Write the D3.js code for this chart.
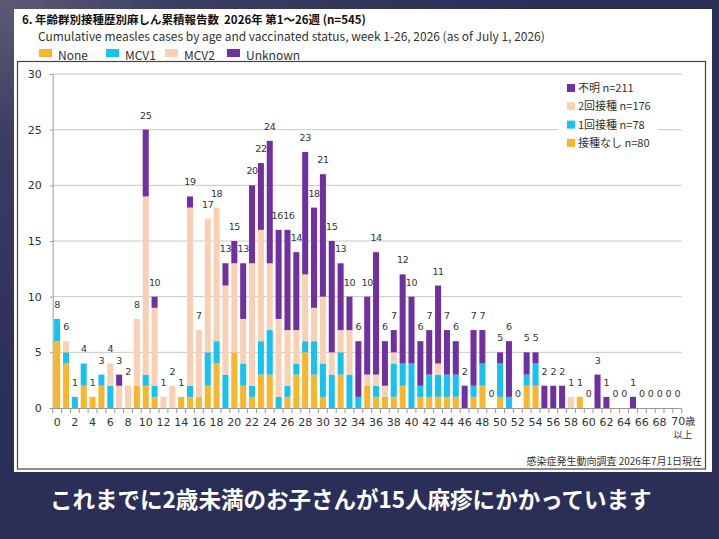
<!DOCTYPE html>
<html>
<head>
<meta charset="utf-8">
<script src="https://cdn.jsdelivr.net/npm/d3@7"></script>
<style>
  html, body { margin: 0; padding: 0; background: #2e3159; }
  svg { display: block; }
</style>
</head>
<body>
<div id="chart"></div>
<script>
// Chart values (ages 0..70+)
var ages = d3.range(0, 71);
var noneVals = [6,4,0,2,1,2,0,0,0,2, 2,1,0,0,1,1,1,2,4,0, 5,2,1,3,3,0,1,3,5,3, 1,0,3,0,0,2,1,1,1,2, 0,1,1,1,1,1,0,1,2,0, 1,0,0,2,2,0,0,0,0,1, 0,0,0,0,0,0,0,0,0,0,0];
var mcv1Vals = [2,1,1,2,0,1,2,0,0,0, 1,1,0,0,0,1,0,3,2,3, 0,2,1,3,4,1,1,1,1,3, 3,3,2,3,1,0,1,0,3,2, 4,1,2,2,2,2,0,1,2,0, 3,1,0,1,2,0,0,0,0,0, 0,0,0,0,0,0,0,0,0,0,0];
var mcv2Vals = [0,1,0,0,0,0,2,2,2,6, 16,7,1,2,0,16,6,12,12,8, 8,4,11,10,6,7,5,3,6,3, 6,2,2,4,0,1,1,1,1,0, 0,0,0,1,0,0,0,0,0,0, 0,0,0,0,0,0,0,0,1,0, 0,0,0,0,0,0,0,0,0,0,0];
var unknownVals = [0,0,0,0,0,0,0,1,0,0, 6,1,0,0,0,1,0,0,0,2, 2,5,7,6,11,8,9,7,11,9, 11,10,6,3,5,7,11,4,2,8, 6,4,4,7,4,3,2,5,3,0, 1,5,0,2,1,2,2,2,0,0, 0,3,1,0,0,1,0,0,0,0,0];

var seriesKeys = ["none", "mcv1", "mcv2", "unknown"];
var topLegendLabels = ["None", "MCV1", "MCV2", "Unknown"];
var rightLegendLabels = ["不明 n=211", "2回接種 n=176", "1回接種 n=78", "接種なし n=80"];
var yTicks = [0, 5, 10, 15, 20, 25, 30];

var colors = {
    none: "#f9b52c",
    mcv1: "#16c2ef",
    mcv2: "#f9d0b4",
    unknown: "#7030a0"
};

var svgWidth = 719;
var svgHeight = 539;

var svg = d3.select("#chart")
    .append("svg")
    .attr("width", svgWidth)
    .attr("height", svgHeight);

// Background gradient
var defs = svg.append("defs");
var grad = defs.append("radialGradient")
    .attr("id", "bg")
    .attr("cx", "0%").attr("cy", "0%").attr("r", "75%");
grad.append("stop").attr("offset", "0%").attr("stop-color", "#5c5a76");
grad.append("stop").attr("offset", "35%").attr("stop-color", "#3b3c62");
grad.append("stop").attr("offset", "100%").attr("stop-color", "#2b2e57");

svg.append("rect")
    .attr("width", svgWidth)
    .attr("height", svgHeight)
    .attr("fill", "url(#bg)");

// White panel
svg.append("rect")
    .attr("x", 14).attr("y", 9)
    .attr("width", 698).attr("height", 463)
    .attr("fill", "#ffffff");

// Chart frame
svg.append("rect")
    .attr("x", 17.5).attr("y", 61.5)
    .attr("width", 688).attr("height", 407.5)
    .attr("fill", "none")
    .attr("stroke", "#444")
    .attr("stroke-width", 1.2);

// squeeze a text to a target width by adjusting font size
function fitWidth(sel, target) {
    var size = parseFloat(sel.attr("font-size"));
    var w = sel.node().getComputedTextLength();
    sel.attr("font-size", (size * target / w).toFixed(2));
}

var jp = "'Noto Sans CJK JP', 'Noto Sans', sans-serif";
var latin = "'DejaVu Sans', Verdana, sans-serif";

// Titles
var title = svg.append("text")
    .attr("x", 22).attr("y", 24)
    .attr("font-family", jp)
    .attr("font-weight", "bold")
    .attr("font-size", 13)
    .attr("fill", "#111")
    .style("white-space", "pre")
    .text("6. 年齢群別接種歴別麻しん累積報告数  2026年 第1～26週 (n=545)");
fitWidth(title, 344);

var subtitle = svg.append("text")
    .attr("x", 38).attr("y", 41)
    .attr("font-family", jp)
    .attr("font-size", 12)
    .attr("fill", "#333")
    .text("Cumulative measles cases by age and vaccinated status, week 1-26, 2026 (as of July 1, 2026)");
fitWidth(subtitle, 507);

// Top legend
var topLegendX = [39, 106, 165, 227];
seriesKeys.forEach(function (k, i) {
    svg.append("rect")
        .attr("x", topLegendX[i]).attr("y", 49)
        .attr("width", 13).attr("height", 8)
        .attr("fill", colors[k]);
    svg.append("text")
        .attr("x", topLegendX[i] + 19).attr("y", 60)
        .attr("font-family", jp)
        .attr("font-size", 12)
        .attr("fill", "#333")
        .text(topLegendLabels[i]);
});

// Scales
var x = d3.scaleBand()
    .domain(ages)
    .range([52.7, 681.7])
    .paddingInner(0.32)
    .paddingOuter(0.16);

var y = d3.scaleLinear()
    .domain([0, 30])
    .range([408, 74]);

// Gridlines
svg.append("g")
    .selectAll("line")
    .data(yTicks.slice(1))
    .enter()
    .append("line")
    .attr("x1", 52.7).attr("x2", 681.7)
    .attr("y1", d => y(d)).attr("y2", d => y(d))
    .attr("stroke", "#c8c8c8")
    .attr("stroke-width", 1);

// Stack data
var rows = ages.map(function (a, i) {
    return { age: a, none: noneVals[i], mcv1: mcv1Vals[i], mcv2: mcv2Vals[i], unknown: unknownVals[i] };
});
rows.forEach(d => d.total = d.none + d.mcv1 + d.mcv2 + d.unknown);
var stacked = d3.stack().keys(seriesKeys)(rows);

var barGroup = svg.append("g");
stacked.forEach(function (layer) {
    barGroup.append("g")
        .attr("fill", colors[layer.key])
        .selectAll("rect")
        .data(layer)
        .enter()
        .append("rect")
        .attr("x", d => x(d.data.age))
        .attr("width", x.bandwidth())
        .attr("y", d => y(d[1]))
        .attr("height", d => y(d[0]) - y(d[1]));
});

// Axes
var leftAxis = d3.axisLeft(y).tickValues(yTicks).tickSize(3).tickPadding(8);
var yAxis = svg.append("g")
    .attr("transform", "translate(52.7,0)")
    .call(leftAxis);
yAxis.select(".domain").attr("stroke", "#999");
yAxis.selectAll(".tick line").attr("stroke", "#999");
yAxis.selectAll("text")
    .attr("font-family", latin)
    .attr("font-size", 11)
    .attr("fill", "#333");

// X axis line and boundary ticks
svg.append("line")
    .attr("x1", 52.7).attr("x2", 681.7)
    .attr("y1", 408.5).attr("y2", 408.5)
    .attr("stroke", "#999");
svg.append("g")
    .selectAll("line")
    .data(ages.concat([71]))
    .enter()
    .append("line")
    .attr("x1", d => 52.7 + d * x.step())
    .attr("x2", d => 52.7 + d * x.step())
    .attr("y1", 408.5).attr("y2", 413)
    .attr("stroke", "#999");

var xLabels = svg.append("g")
    .attr("font-family", latin)
    .attr("font-size", 11)
    .attr("fill", "#333");
xLabels.selectAll("text")
    .data(ages.filter(a => a % 2 === 0 && a < 70))
    .enter()
    .append("text")
    .attr("x", d => x(d) + x.bandwidth() / 2)
    .attr("y", 426)
    .attr("text-anchor", "middle")
    .text(d => d);

var lastX = x(70) + x.bandwidth() / 2;
var lab70 = xLabels.append("text")
    .attr("x", lastX - 6)
    .attr("y", 425);
lab70.append("tspan").text("70");
lab70.append("tspan").attr("font-family", jp).attr("font-size", 10).text("歳");
xLabels.append("text")
    .attr("x", lastX + 15)
    .attr("y", 438)
    .attr("text-anchor", "end")
    .attr("font-family", jp)
    .attr("font-size", 9.5)
    .text("以上");

// Total labels; nudge apart neighbouring two-digit labels at the same height
rows.forEach(function (d, i) {
    d.dx = 0;
});
rows.forEach(function (d, i) {
    var p = rows[i - 1];
    if (p && d.total >= 10 && p.total >= 10 && Math.abs(y(d.total) - y(p.total)) < 9) {
        p.dx -= 1.4;
        d.dx += 1.4;
    }
});
svg.append("g")
    .selectAll("text")
    .data(rows)
    .enter()
    .append("text")
    .attr("x", d => x(d.age) + x.bandwidth() / 2 + d.dx)
    .attr("y", d => y(d.total) - 11)
    .attr("text-anchor", "middle")
    .attr("font-family", latin)
    .attr("font-size", 9.5)
    .attr("letter-spacing", -0.4)
    .attr("fill", "#333")
    .text(d => d.total);

// Right legend
var legendKeys = ["unknown", "mcv2", "mcv1", "none"];
svg.append("rect")
    .attr("x", 558).attr("y", 76)
    .attr("width", 100).attr("height", 76)
    .attr("fill", "#fff");
legendKeys.forEach(function (k, i) {
    var ly = 88 + i * 18.3;
    svg.append("rect")
        .attr("x", 567).attr("y", ly - 4)
        .attr("width", 8).attr("height", 8)
        .attr("fill", colors[k]);
    svg.append("text")
        .attr("x", 578).attr("y", ly + 4)
        .attr("font-family", jp)
        .attr("font-size", 11)
        .attr("fill", "#333")
        .text(rightLegendLabels[i]);
});

// Source note
svg.append("text")
    .attr("x", 702).attr("y", 465)
    .attr("text-anchor", "end")
    .attr("font-family", jp)
    .attr("font-size", 10)
    .attr("fill", "#333")
    .text("感染症発生動向調査 2026年7月1日現在");

// Caption
var caption = svg.append("text")
    .attr("x", 50).attr("y", 508)
    .attr("font-family", jp)
    .attr("font-weight", "bold")
    .attr("font-size", 21)
    .attr("fill", "#ffffff")
    .text("これまでに2歳未満のお子さんが15人麻疹にかかっています");
fitWidth(caption, 602);
</script>
</body>
</html>
